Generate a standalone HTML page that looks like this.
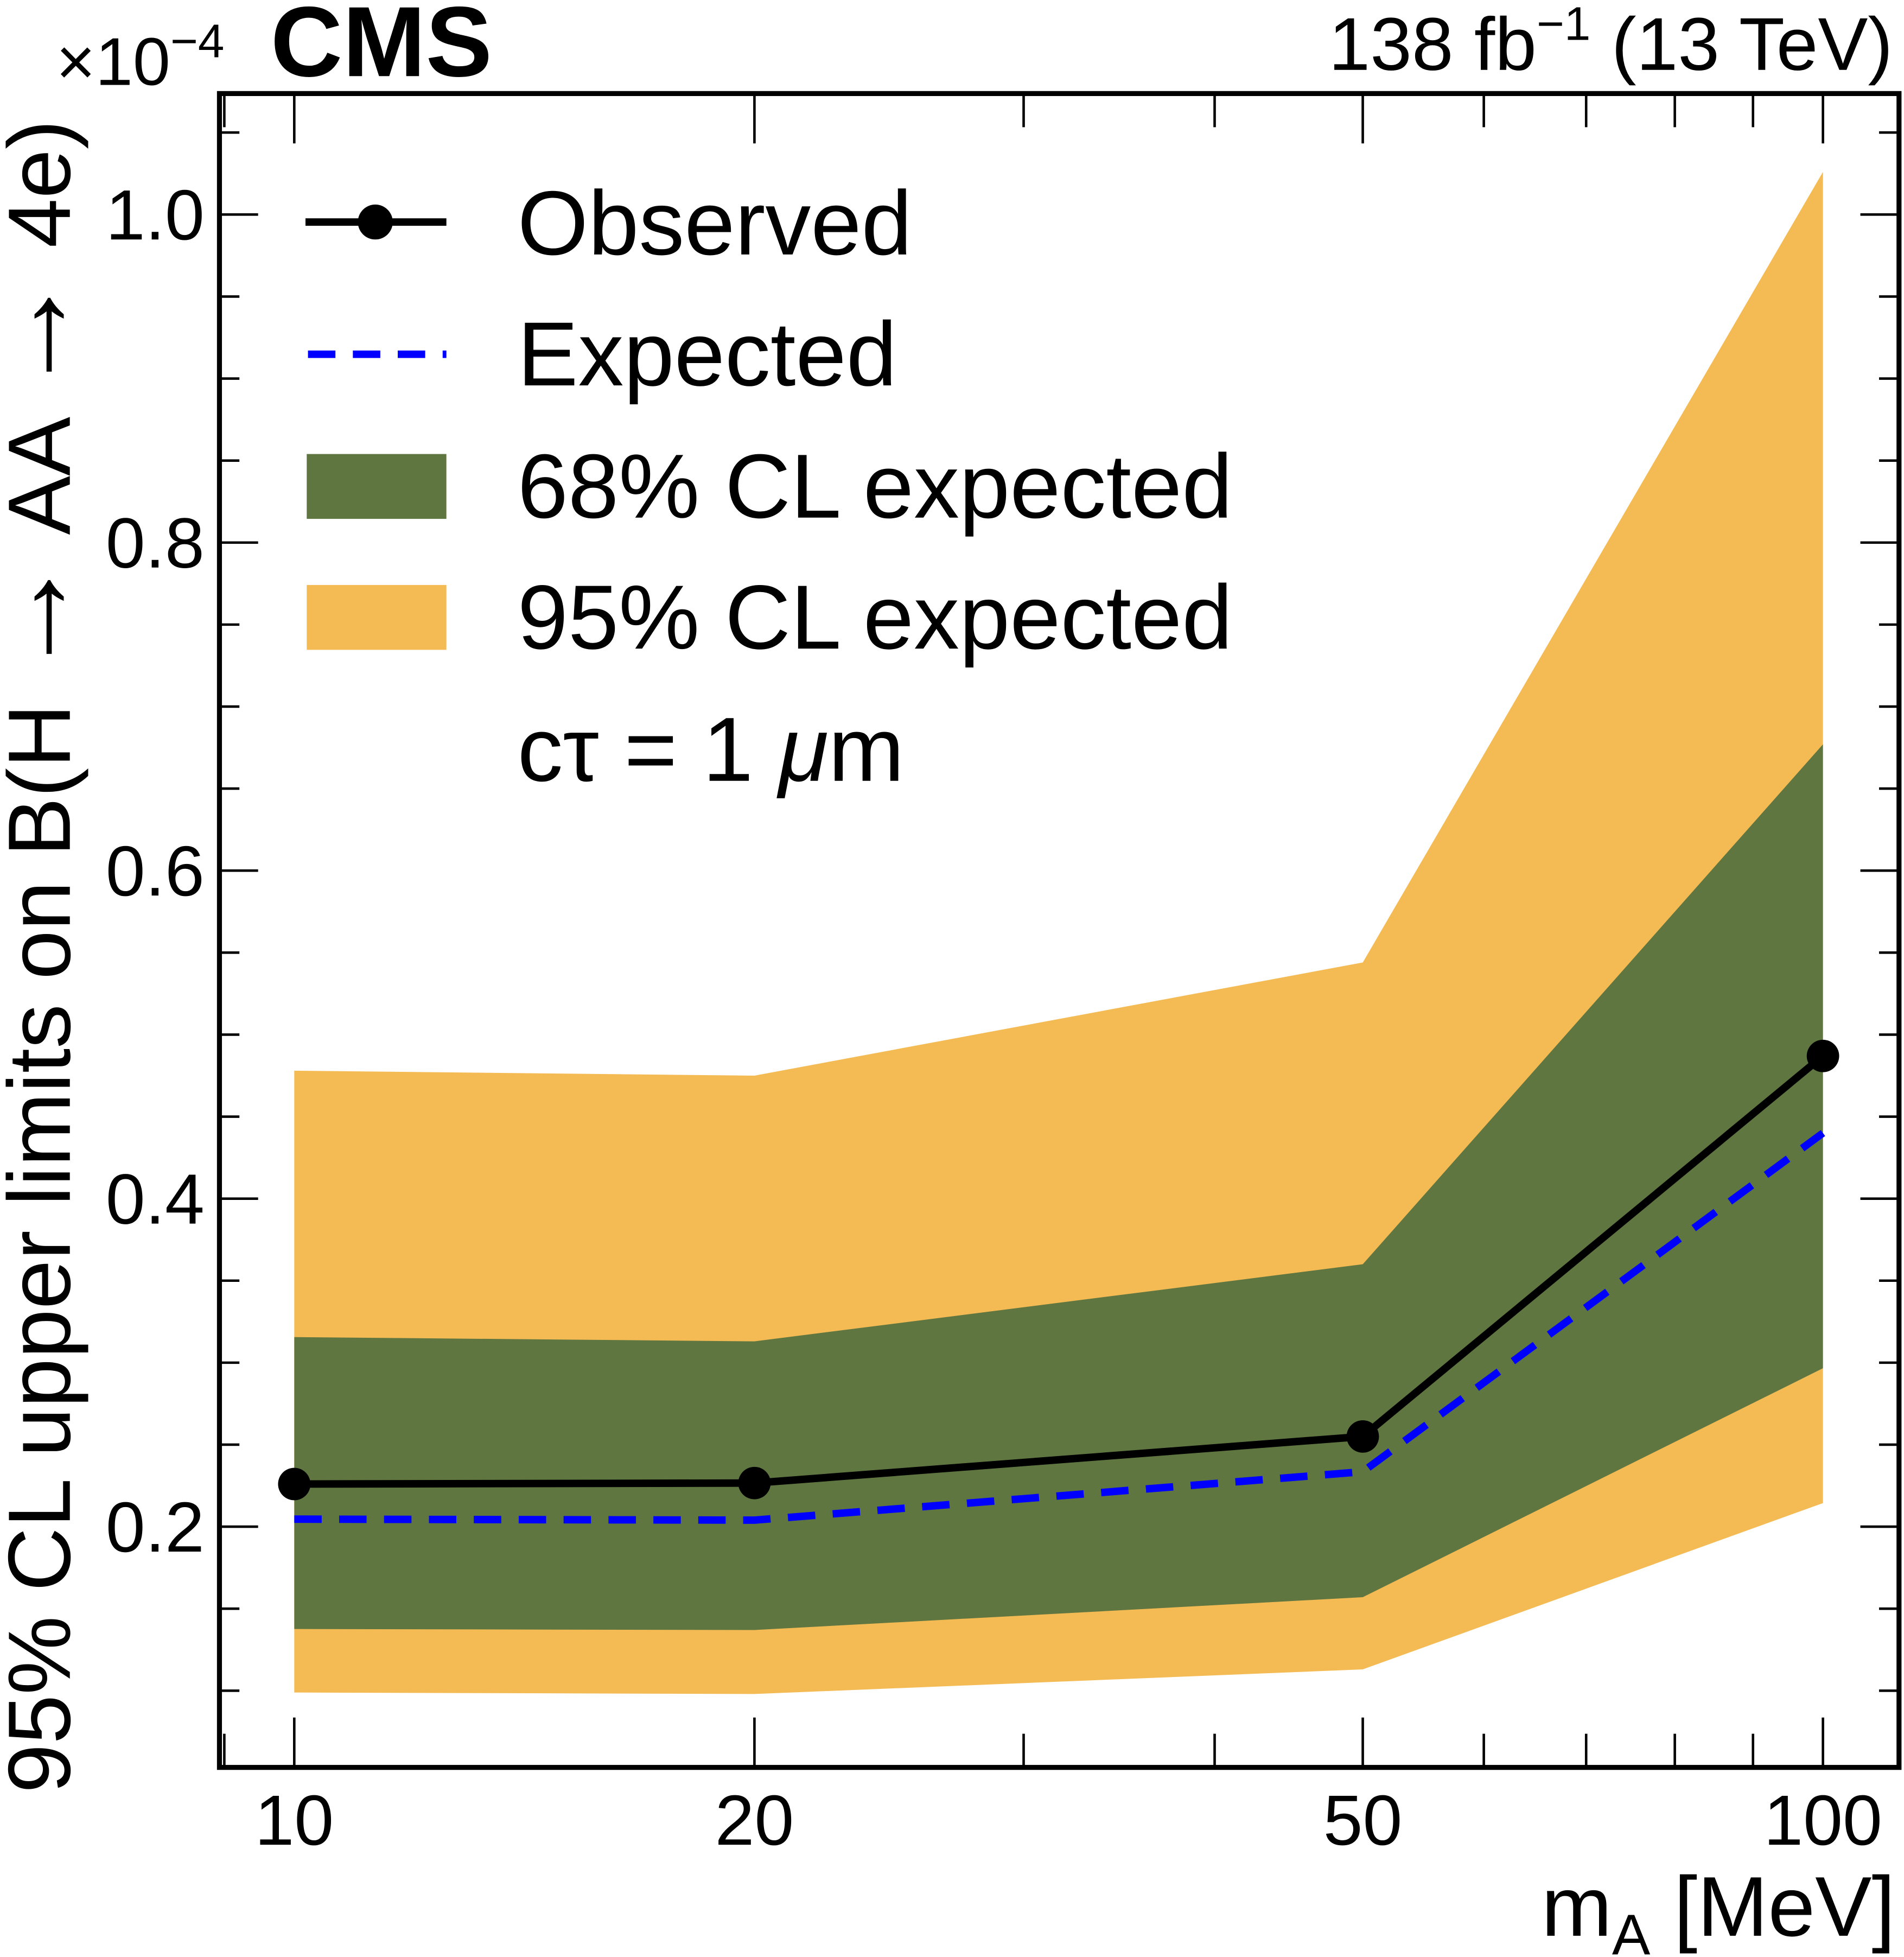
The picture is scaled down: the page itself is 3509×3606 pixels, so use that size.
<!DOCTYPE html>
<html><head><meta charset="utf-8"><style>
html,body{margin:0;padding:0;background:#fff;}
svg{display:block;font-family:"Liberation Sans",Arial,sans-serif;}
</style></head><body>
<svg id="chart" width="3509" height="3606" viewBox="0 0 1527 1569" preserveAspectRatio="none" xmlns="http://www.w3.org/2000/svg">
<g id="bands"></g>
<g id="lines"></g>
<g id="axes"></g>
<rect x="176" y="75" width="1347" height="1342" fill="none" stroke="#000" stroke-width="4"/>
<text x="217" y="61" font-size="80" font-weight="bold">CMS</text>
<text x="1518" y="56" font-size="60" text-anchor="end">138 fb<tspan font-size="38" dy="-24">−1</tspan><tspan dy="24"> (13 TeV)</tspan></text>
<text x="45" y="68" font-size="54">×10<tspan font-size="38" dy="-22">−4</tspan></text>
<text transform="translate(56,96) rotate(-90)" font-size="71" text-anchor="end" style="white-space:pre">95% CL upper limits on B(H <tspan font-size="100">→</tspan> AA <tspan font-size="100">→</tspan> 4e)</text>
<text x="1520" y="1552" font-size="68" text-anchor="end">m<tspan font-size="46" dy="15">A</tspan><tspan dy="-15"> [MeV]</tspan></text>
<g font-size="73">
<line x1="245" y1="178" x2="358" y2="178" stroke="#000" stroke-width="6"/>
<circle cx="301" cy="178" r="14" fill="#000"/>
<text x="415" y="204">Observed</text>
<line x1="247" y1="284" x2="358" y2="284" stroke="#0000ff" stroke-width="6" stroke-dasharray="22,14"/>
<text x="415" y="309">Expected</text>
<rect x="246" y="364" width="112" height="52" fill="#607641"/>
<text x="415" y="415">68% CL expected</text>
<rect x="246" y="469" width="112" height="52" fill="#f4bb54"/>
<text x="415" y="520">95% CL expected</text>
<text x="415" y="626" style="white-space:pre">cτ = 1 <tspan font-style="italic">μ</tspan>m</text>
</g>
</svg>
<script>
const masses = [10, 20, 50, 100];
const observed = [0.226, 0.2266, 0.255, 0.487];
const expected = [0.2046, 0.204, 0.2335, 0.440];
const up68 = [0.3156, 0.313, 0.360, 0.677];
const down68 = [0.1376, 0.137, 0.157, 0.2966];
const up95 = [0.478, 0.475, 0.544, 1.026];
const down95 = [0.0989, 0.098, 0.113, 0.2144];
const yTicks = [0.2, 0.4, 0.6, 0.8, 1.0];
const yTickLabels = ["0.2", "0.4", "0.6", "0.8", "1.0"];
const xTicks = [10, 20, 50, 100];
const xTickLabels = ["10", "20", "50", "100"];
const xMinor = [9, 30, 40, 60, 70, 80, 90];

const L = 176, R = 1523, T = 75, B = 1417;
function xs(v){ return 236 + (Math.log10(v) - 1) * 1226; }
function ys(v){ return 1487 - v * 1315; }
const NS = "http://www.w3.org/2000/svg";
function mk(tag, attrs, parent){
  const e = document.createElementNS(NS, tag);
  for (const k in attrs) e.setAttribute(k, attrs[k]);
  parent.appendChild(e); return e;
}
const bands = document.getElementById('bands');
const lines = document.getElementById('lines');
const axes = document.getElementById('axes');
function bandPts(up, dn){
  const a = masses.map((m,i)=>xs(m)+','+ys(up[i]));
  const b = masses.map((m,i)=>xs(m)+','+ys(dn[i])).reverse();
  return a.concat(b).join(' ');
}
const b95 = mk('polygon', {points: bandPts(up95, down95), fill: '#f4bb54'}, bands);


const b68 = mk('polygon', {points: bandPts(up68, down68), fill: '#607641'}, bands);


const ex = mk('polyline', {points: masses.map((m,i)=>xs(m)+','+ys(expected[i])).join(' '), fill: 'none', stroke: '#0000ff', 'stroke-width': 6, 'stroke-dasharray': '22,14'}, lines);


const ob = mk('polyline', {points: masses.map((m,i)=>xs(m)+','+ys(observed[i])).join(' '), fill: 'none', stroke: '#000', 'stroke-width': 6}, lines);


masses.forEach((m,i)=>{
  const c = mk('circle', {cx: xs(m), cy: ys(observed[i]), r: 13, fill: '#000'}, lines);
  
  
});
for (let k = 2; k <= 21; k++){
  const v = k * 0.05;
  const y = ys(v);
  if (y < T || y > B) continue;
  const major = (k % 4 === 0);
  const len = major ? 31 : 16;
  mk('line', {x1: L, y1: y, x2: L+len, y2: y, stroke: '#000', 'stroke-width': 2}, axes);
  mk('line', {x1: R, y1: y, x2: R-len, y2: y, stroke: '#000', 'stroke-width': 2}, axes);
}
yTicks.forEach((v,i)=>{
  const t = mk('text', {x: 164, y: ys(v)+20, 'font-size': 57, 'text-anchor': 'end'}, axes);
  t.textContent = yTickLabels[i];
  
  
});
xTicks.forEach((v,i)=>{
  const x = xs(v);
  mk('line', {x1: x, y1: B, x2: x, y2: B-40, stroke: '#000', 'stroke-width': 2}, axes);
  mk('line', {x1: x, y1: T, x2: x, y2: T+40, stroke: '#000', 'stroke-width': 2}, axes);
  const t = mk('text', {x: x, y: 1479, 'font-size': 57, 'text-anchor': 'middle'}, axes);
  t.textContent = xTickLabels[i];
  
  
});
xMinor.forEach(v=>{
  const x = xs(v);
  mk('line', {x1: x, y1: B, x2: x, y2: B-27, stroke: '#000', 'stroke-width': 2}, axes);
  mk('line', {x1: x, y1: T, x2: x, y2: T+27, stroke: '#000', 'stroke-width': 2}, axes);
});
</script>
</body></html>
